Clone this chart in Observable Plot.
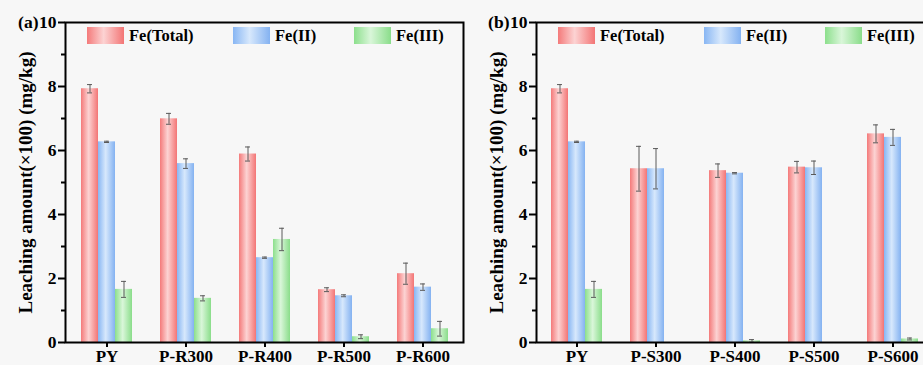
<!DOCTYPE html>
<html>
<head>
<meta charset="utf-8">
<script src="https://cdn.jsdelivr.net/npm/d3@7"></script>
<script src="https://cdn.jsdelivr.net/npm/@observablehq/plot@0.6"></script>
<style>
  html, body { margin: 0; padding: 0; background: #f7f7f7; overflow: hidden; }
  #wrap { position: relative; width: 923px; height: 365px; overflow: hidden; }
  .panel { position: absolute; top: 0; height: 365px; }
  .panel svg { max-width: none !important; display: block; }
  svg text { font-family: "Liberation Serif", "Times New Roman", serif; }
</style>
</head>
<body>
<div id="wrap">
  <div class="panel" id="pa" style="left:0px; width:470px"></div>
  <div class="panel" id="pb" style="left:470px; width:480px"></div>
</div>
<script>
// ---- data ----
const series = ["Fe(Total)", "Fe(II)", "Fe(III)"];
const yTitle = "Leaching amount(×100) (mg/kg)";
const majorTicks = [0, 2, 4, 6, 8, 10];
const minorTicks = [1, 3, 5, 7, 9];

const catsA = ["PY", "P-R300", "P-R400", "P-R500", "P-R600"];
const totalA = [7.93, 6.99, 5.89, 1.65, 2.15];
const totalErrA = [0.13, 0.17, 0.22, 0.06, 0.33];
const fe2A = [6.27, 5.59, 2.65, 1.46, 1.73];
const fe2ErrA = [0.02, 0.15, 0.02, 0.03, 0.10];
const fe3A = [1.66, 1.38, 3.22, 0.18, 0.43];
const fe3ErrA = [0.25, 0.08, 0.35, 0.06, 0.23];

const catsB = ["PY", "P-S300", "P-S400", "P-S500", "P-S600"];
const totalB = [7.93, 5.43, 5.37, 5.48, 6.52];
const totalErrB = [0.13, 0.70, 0.21, 0.18, 0.28];
const fe2B = [6.27, 5.43, 5.29, 5.46, 6.41];
const fe2ErrB = [0.02, 0.63, 0.02, 0.21, 0.25];
const fe3B = [1.66, 0, 0.05, 0, 0.11];
const fe3ErrB = [0.25, 0, 0.04, 0, 0.03];

// ---- styles ----
const gradStops = [
  ["#f47a7a", "#fcd3d3", "#f37575"],
  ["#88b6f3", "#d7e8fc", "#84b2f1"],
  ["#8cdf8c", "#d9f6d9", "#8add8a"]
];
const FONT = '"Liberation Serif", "Times New Roman", serif';
const BW = 17;

function makePanel(el, id, tag, cats, vals, errs, layout) {
  const rows = [];
  cats.forEach((c, i) => {
    series.forEach((s, k) => rows.push({cat: c, k, v: vals[k][i], e: errs[k][i]}));
  });
  const plotW = layout.right - layout.marginLeft;
  const step = plotW / cats.length;
  const pad = 1 - BW / step;
  const marks = [];
  series.forEach((s, k) => {
    const d = rows.filter(r => r.k === k && r.v > 0);
    const dx = (k - 1) * BW;
    marks.push(Plot.barY(d, {x: "cat", y: "v", dx, fill: `url(#${id}-g${k})`}));
    const de = d.filter(r => r.e > 0);
    marks.push(Plot.ruleX(de, {x: "cat", y1: r => r.v - r.e, y2: r => r.v + r.e, dx, stroke: "#5a5a5a", strokeWidth: 1}));
    marks.push(Plot.tickY(de, {x: "cat", y: r => r.v + r.e, dx, insetLeft: 6, insetRight: 6, stroke: "#5a5a5a", strokeWidth: 1}));
    marks.push(Plot.tickY(de, {x: "cat", y: r => r.v - r.e, dx, insetLeft: 6, insetRight: 6, stroke: "#5a5a5a", strokeWidth: 1}));
  });
  marks.push(Plot.frame({stroke: "black", strokeWidth: 2}));
  marks.push(Plot.axisY({ticks: majorTicks, tickSize: 7, tickPadding: 2, strokeWidth: 2, fontSize: 17.5, fontWeight: "bold", label: null, tickFormat: d => String(d)}));
  marks.push(Plot.axisY({ticks: minorTicks, tickSize: 4, strokeWidth: 2, label: null, tickFormat: () => ""}));
  marks.push(Plot.axisX({tickSize: 5, tickPadding: 2, strokeWidth: 2, fontSize: 17, fontWeight: "bold", label: null}));
  marks.push(Plot.text([yTitle], {frameAnchor: "left", rotate: -90, dx: -40, fontSize: 19, fontWeight: "bold", textAnchor: "middle"}));
  marks.push(Plot.text([tag], {frameAnchor: "top-left", dx: -27, textAnchor: "end", lineAnchor: "middle", fontSize: 17.5, fontWeight: "bold"}));

  const svg = Plot.plot({
    width: layout.width,
    height: 365,
    marginLeft: layout.marginLeft,
    marginRight: layout.width - layout.right,
    marginTop: 22,
    marginBottom: 23,
    style: {fontFamily: FONT, fontSize: "17px", fontWeight: "bold", background: "transparent", color: "black", overflow: "visible"},
    x: {domain: cats, paddingInner: pad, paddingOuter: pad / 2, align: 0.5},
    y: {domain: [0, 10]},
    marks
  });
  svg.style.maxWidth = "none";

  // gradients
  const s = d3.select(svg);
  const defs = s.insert("defs", ":first-child");
  gradStops.forEach((st, k) => {
    const g = defs.append("linearGradient").attr("id", `${id}-g${k}`)
      .attr("x1", "0").attr("x2", "1").attr("y1", "0").attr("y2", "0");
    g.append("stop").attr("offset", "0%").attr("stop-color", st[0]);
    g.append("stop").attr("offset", "45%").attr("stop-color", st[1]);
    g.append("stop").attr("offset", "100%").attr("stop-color", st[2]);
  });

  // legend inside plot area
  const lx = layout.marginLeft;
  const legendOffsets = [22, 168, 289];
  const lg = s.append("g").attr("text-anchor", "start");
  series.forEach((name, k) => {
    const x0 = lx + legendOffsets[k];
    lg.append("rect").attr("x", x0).attr("y", 27).attr("width", 37).attr("height", 17)
      .attr("fill", `url(#${id}-g${k})`);
    lg.append("text").attr("x", x0 + 42).attr("y", 41)
      .attr("text-anchor", "start")
      .attr("font-family", FONT).attr("font-size", 16.5).attr("font-weight", "bold")
      .attr("fill", "black").text(name);
  });

  el.appendChild(svg);
}

makePanel(document.getElementById("pa"), "pa", "(a)", catsA,
  [totalA, fe2A, fe3A], [totalErrA, fe2ErrA, fe3ErrA],
  {width: 470, marginLeft: 65, right: 463});
makePanel(document.getElementById("pb"), "pb", "(b)", catsB,
  [totalB, fe2B, fe3B], [totalErrB, fe2ErrB, fe3ErrB],
  {width: 480, marginLeft: 66, right: 462});
</script>
</body>
</html>
